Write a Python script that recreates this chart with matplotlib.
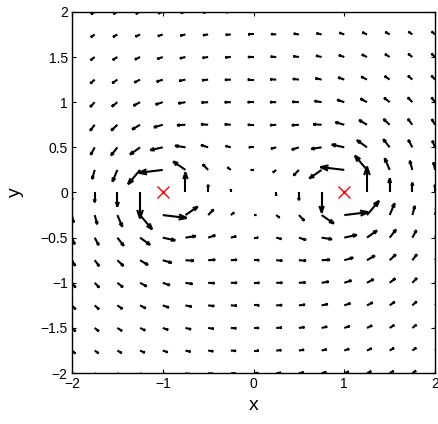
import numpy as np
import matplotlib
matplotlib.use("Agg")
import matplotlib.pyplot as plt
from matplotlib.collections import LineCollection

# vortex centres (red crosses) and their circulation
vortex_x = [-1.0, 1.0]
vortex_y = [0.0, 0.0]
vortex_strength = [1.0, 1.0]

# sampling grid of the field
grid_ticks = [-2, -1.75, -1.5, -1.25, -1, -0.75, -0.5, -0.25, 0,
              0.25, 0.5, 0.75, 1, 1.25, 1.5, 1.75, 2]
x_ticks = [-2, -1, 0, 1, 2]
y_ticks = [-2, -1.5, -1, -0.5, 0, 0.5, 1, 1.5, 2]

plt.rcParams['font.family'] = ['Liberation Sans', 'DejaVu Sans']

X, Y = np.meshgrid(grid_ticks, grid_ticks)
U = np.zeros_like(X)
V = np.zeros_like(X)
for xc, yc, g in zip(vortex_x, vortex_y, vortex_strength):
    dx = X - xc
    dy = Y - yc
    r2 = dx**2 + dy**2
    with np.errstate(divide='ignore', invalid='ignore'):
        U += -g * dy / r2
        V += g * dx / r2
ok = np.isfinite(U) & np.isfinite(V)

# longest arrow a bit longer than the grid spacing
spacing = grid_ticks[1] - grid_ticks[0]
mag = np.sqrt(U[ok]**2 + V[ok]**2)
k = 1.15 * spacing / mag.max()

# matlab-style arrows: shaft + two barbs
alpha, beta = 0.33, 0.33
segs = []
for x, y, u, v in zip(X[ok], Y[ok], U[ok] * k, V[ok] * k):
    tx, ty = x + u, y + v
    segs.append([(x, y), (tx, ty)])
    segs.append([(tx - alpha * (u + beta * v), ty - alpha * (v - beta * u)),
                 (tx, ty),
                 (tx - alpha * (u - beta * v), ty - alpha * (v + beta * u))])

fig = plt.figure(figsize=(4.39, 4.24), dpi=100)
ax = fig.add_axes([0.164, 0.120, 0.827, 0.852])

ax.add_collection(LineCollection(segs, colors='black', linewidths=1.5,
                                 capstyle='butt', joinstyle='miter'))
ax.plot(vortex_x, vortex_y, 'x', color='red', markersize=9, mew=1.0)

ax.set_xlim(-2, 2)
ax.set_ylim(-2, 2)
ax.set_xticks(x_ticks)
ax.set_yticks(y_ticks)
ax.set_yticklabels(['\u22122', '\u22121.5', '\u22121', '\u22120.5', '0',
                    '0.5', '1', '1.5', '2'])
ax.set_xticklabels(['\u22122', '\u22121', '0', '1', '2'])
ax.tick_params(direction='in', length=3, labelsize=10, top=True, right=True,
               width=0.8, pad=3)
for s in ax.spines.values():
    s.set_linewidth(1.0)
ax.set_xlabel('x', fontsize=14, labelpad=4)
ax.set_ylabel('y', fontsize=14, labelpad=12)

fig.savefig('out.png', dpi=100)
